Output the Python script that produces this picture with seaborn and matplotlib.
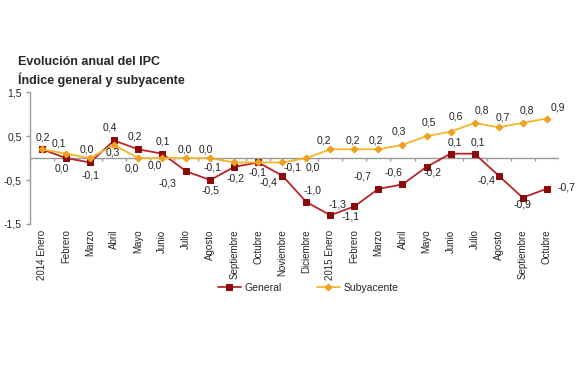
import numpy as np
import pandas as pd
import matplotlib
matplotlib.use("Agg")
import matplotlib.pyplot as plt
import seaborn as sns

months = ["2014 Enero", "Febrero", "Marzo", "Abril", "Mayo", "Junio", "Julio",
          "Agosto", "Septiembre", "Octubre", "Noviembre", "Diciembre",
          "2015 Enero", "Febrero", "Marzo", "Abril", "Mayo", "Junio", "Julio",
          "Agosto", "Septiembre", "Octubre"]
general = [0.2, 0.0, -0.1, 0.4, 0.2, 0.1, -0.3, -0.5, -0.2, -0.1, -0.4, -1.0,
           -1.3, -1.1, -0.7, -0.6, -0.2, 0.1, 0.1, -0.4, -0.9, -0.7]
subyacente = [0.2, 0.1, 0.0, 0.3, 0.0, 0.0, 0.0, 0.0, -0.1, -0.1, -0.1, 0.0,
              0.2, 0.2, 0.2, 0.3, 0.5, 0.6, 0.8, 0.7, 0.8, 0.9]
y_ticks = [-1.5, -0.5, 0.5, 1.5]

# label offsets in pixels (dx, dy)
gen_off = [(1, 12), (-4, -10), (0, -13), (-4, 13), (-3, 13), (1, 12), (-19, -12),
           (0, -10), (1, -12), (-1, -10), (-14, -7), (6, 12), (7, 11), (-4, -10),
           (-16, 12), (-9, 12), (6, -6), (4, 11), (3, 11), (-12, -5), (0, -7), (20, 1)]
sub_off = [None, (-7, 10), (-3, 9), (-1, -8), (-6, -10), (-7, -7), (-1, 9),
           (-4, 9), (-22, -5), None, (10, -5), (6, -9), (-7, 9), (-2, 9),
           (-3, 9), (-4, 13), (2, 14), (5, 15), (7, 12), (4, 10), (4, 12), (11, 11)]

sns.set_style("white")
plt.rcParams['font.family'] = ['Liberation Sans', 'DejaVu Sans']

df = pd.DataFrame({"x": np.arange(len(months)), "General": general, "Subyacente": subyacente})

fig = plt.figure(figsize=(5.76, 3.84), dpi=100)
ax = fig.add_axes([0.052, 0.4167, 0.918, 0.3433])

# zero line with small ticks between categories
ax.axhline(0, color="#9a9a9a", lw=1, zorder=1)
ax.vlines(np.arange(len(months) + 1) - 0.5, -0.065, 0, color="#9a9a9a", lw=1, zorder=1)

sns.lineplot(data=df, x="x", y="Subyacente", ax=ax, color="#F7B52C", lw=1.3,
             marker="D", markersize=3.5, markerfacecolor="#F0A020",
             markeredgecolor="#F0A020", label="Subyacente", zorder=3)
sns.lineplot(data=df, x="x", y="General", ax=ax, color="#B8262C", lw=1.3,
             marker="s", markersize=5, markerfacecolor="#8B0A0A",
             markeredgecolor="#8B0A0A", label="General", zorder=2)

def fmt(v):
    return f"{v:.1f}".replace(".", ",")

for i, v in enumerate(general):
    ax.annotate(fmt(v), (i, v), xytext=gen_off[i], textcoords="offset pixels",
                ha="center", va="center", fontsize=7.5, color="#222222")
for i, v in enumerate(subyacente):
    if sub_off[i] is None:  # same label as General, drawn once
        continue
    ax.annotate(fmt(v), (i, v), xytext=sub_off[i], textcoords="offset pixels",
                ha="center", va="center", fontsize=7.5, color="#222222")

ax.set_xlim(-0.5, len(months) - 0.5)
ax.set_ylim(-1.5, 1.5)
ax.set_yticks(y_ticks)
ax.set_yticklabels([fmt(t) for t in y_ticks], fontsize=7.5)
ax.set_xticks(np.arange(len(months)))
ax.set_xticklabels(months, rotation=90, fontsize=7, va="top", ha="center")
ax.tick_params(axis="x", length=0, pad=4)
ax.tick_params(axis="y", direction="out", length=3, width=1, color="#9a9a9a", pad=3, left=True)
ax.set_xlabel("")
ax.set_ylabel("")
for s in ["top", "right", "bottom"]:
    ax.spines[s].set_visible(False)
ax.spines["left"].set_color("#9a9a9a")
ax.spines["left"].set_linewidth(1)

ax.get_legend().remove()
handles, labels = ax.get_legend_handles_labels()
order = [labels.index("General"), labels.index("Subyacente")]
fig.legend([handles[k] for k in order], [labels[k] for k in order],
           loc="center", bbox_to_anchor=(0.535, 0.25), ncol=2, frameon=False,
           fontsize=7.5, columnspacing=3.4, handlelength=2.2, handletextpad=0.35)

fig.text(0.031, 0.839, "Evolución anual del IPC", fontsize=9, fontweight="bold",
         ha="left", va="center")
fig.text(0.031, 0.792, "Índice general y subyacente", fontsize=9, fontweight="bold",
         ha="left", va="center")

fig.savefig("out.png", dpi=100, facecolor="white")
